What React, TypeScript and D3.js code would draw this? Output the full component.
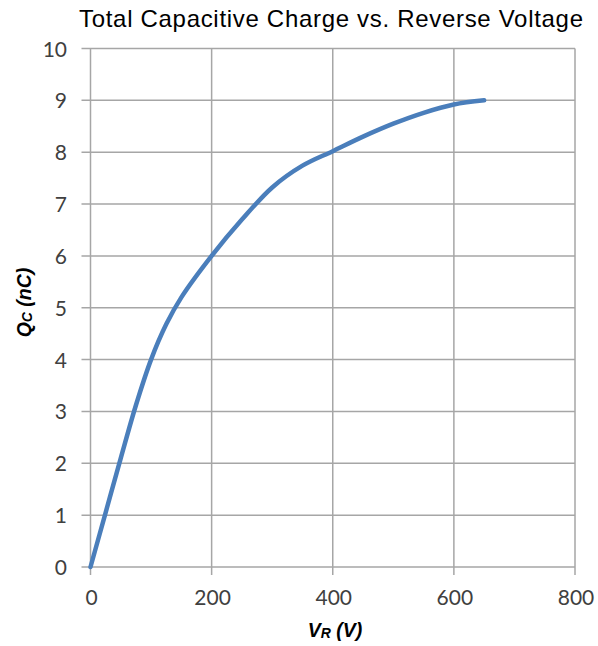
import React from "react";
import * as d3 from "d3";

const voltage = [0, 25, 50, 75, 100, 125, 150, 200, 250, 300, 350, 400, 450, 500, 550, 600, 650];
const charge = [0, 1.05, 2.1, 3.12, 4.0, 4.68, 5.2, 6.0, 6.7, 7.32, 7.74, 8.02, 8.3, 8.55, 8.76, 8.92, 9.0];
const xTicks = [0, 200, 400, 600, 800];
const yTicks = [0, 1, 2, 3, 4, 5, 6, 7, 8, 9, 10];

export default function App() {
  const W = 598, H = 646;
  const left = 90.5, right = 575, top = 48.5, bottom = 567;
  const x = d3.scaleLinear().domain([0, 800]).range([left, right]);
  const y = d3.scaleLinear().domain([0, 10]).range([bottom, top]);
  const pts = voltage.map((v, i) => [v, charge[i]] as [number, number]);
  const line = d3.line<[number, number]>().x(d => x(d[0])).y(d => y(d[1])).curve(d3.curveCatmullRom.alpha(0.5));
  const grid = "#a6a6a6";
  const tickFont = "Lato, 'Open Sans', sans-serif";
  return (
    <svg width={W} height={H} style={{ position: "absolute", left: 0, top: 0, background: "#fff" }}>
      <text x={331} y={27} textAnchor="middle" fontFamily="'Liberation Sans', Arial, sans-serif" fontSize={24} textLength={504} lengthAdjust="spacing" fill="#000">
        Total Capacitive Charge vs. Reverse Voltage
      </text>
      {yTicks.map(t => (
        <g key={"y" + t}>
          <line x1={left - 9} x2={right} y1={y(t)} y2={y(t)} stroke={grid} strokeWidth={1.5} />
          <text x={67} y={y(t) + 8} textAnchor="end" fontFamily={tickFont} fontSize={21} fill="#404040">{t}</text>
        </g>
      ))}
      {xTicks.map(t => (
        <g key={"x" + t}>
          <line x1={x(t)} x2={x(t)} y1={top} y2={bottom + 8} stroke={grid} strokeWidth={1.5} />
          <text x={x(t) + 1} y={605} textAnchor="middle" fontFamily={tickFont} fontSize={21} fill="#404040">{t}</text>
        </g>
      ))}
      <path d={line(pts) || ""} fill="none" stroke="#4a7ebb" strokeWidth={4.5} strokeLinecap="round" strokeLinejoin="round" />
      <text x={335} y={637} textAnchor="middle" fontFamily="'Liberation Sans', Arial, sans-serif" fontSize={19.5} fontWeight="bold" fontStyle="italic" fill="#000">
        V<tspan fontSize={14} dy={1}>R</tspan><tspan dy={-1}> (V)</tspan>
      </text>
      <text transform="translate(31,302.5) rotate(-90)" textAnchor="middle" fontFamily="'Liberation Sans', Arial, sans-serif" fontSize={19.5} fontWeight="bold" fontStyle="italic" fill="#000">
        Q<tspan fontSize={14} dy={1}>C</tspan><tspan dy={-1}> (nC)</tspan>
      </text>
    </svg>
  );
}
